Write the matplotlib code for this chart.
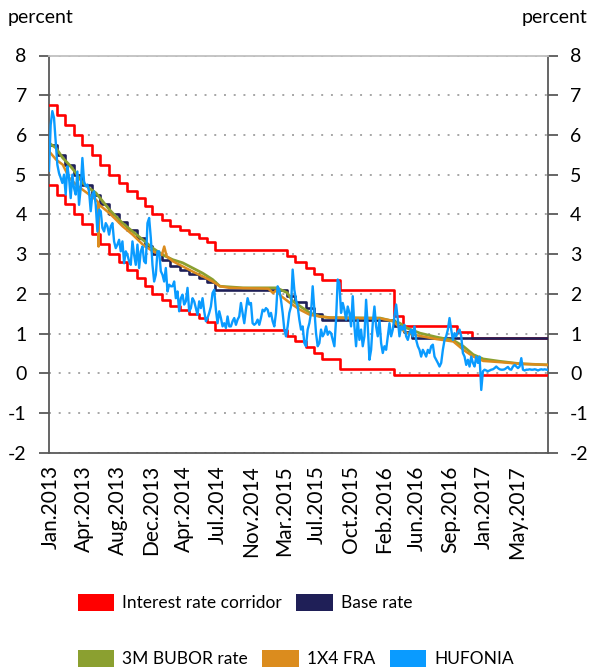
import matplotlib
matplotlib.use('Agg')
import matplotlib.pyplot as plt
from matplotlib.patches import Patch
import pandas as pd

plt.rcParams['font.family'] = ['Lato', 'DejaVu Sans']
plt.rcParams['axes.unicode_minus'] = False

# ---- data -----------------------------------------------------------
start_date = '2013-01-02'
end_date = '2017-08-31'

# base rate decisions (effective date, level)
base_dates = ['2013-01-02', '2013-01-30', '2013-02-27', '2013-03-27', '2013-04-24',
              '2013-05-29', '2013-06-26', '2013-07-24', '2013-08-28', '2013-09-25',
              '2013-10-30', '2013-11-27', '2013-12-18', '2014-01-22', '2014-02-19',
              '2014-03-26', '2014-04-23', '2014-05-28', '2014-06-25', '2014-07-23',
              '2015-03-25', '2015-04-22', '2015-05-27', '2015-06-24', '2015-07-22',
              '2016-03-23', '2016-04-27', '2016-05-25']
base_rate = [5.75, 5.50, 5.25, 5.00, 4.75, 4.50, 4.25, 4.00, 3.80, 3.60,
             3.40, 3.20, 3.00, 2.85, 2.70, 2.60, 2.50, 2.40, 2.30, 2.10,
             1.95, 1.80, 1.65, 1.50, 1.35, 1.20, 1.05, 0.90]

# interest rate corridor
corridor_dates = ['2013-01-02', '2013-01-30', '2013-02-27', '2013-03-27', '2013-04-24',
                  '2013-05-29', '2013-06-26', '2013-07-24', '2013-08-28', '2013-09-25',
                  '2013-10-30', '2013-11-27', '2013-12-18', '2014-01-22', '2014-02-19',
                  '2014-03-26', '2014-04-23', '2014-05-28', '2014-06-25', '2014-07-23',
                  '2015-03-25', '2015-04-22', '2015-05-27', '2015-06-24', '2015-07-22',
                  '2015-09-23', '2016-03-23', '2016-04-22', '2016-10-26', '2016-12-14']
corridor_upper = [6.75, 6.50, 6.25, 6.00, 5.75, 5.50, 5.25, 5.00, 4.80, 4.60,
                  4.40, 4.20, 4.00, 3.85, 3.70, 3.60, 3.50, 3.40, 3.30, 3.10,
                  2.95, 2.80, 2.65, 2.50, 2.35, 2.10, 1.45, 1.20, 1.05, 0.90]
corridor_lower = [4.75, 4.50, 4.25, 4.00, 3.75, 3.50, 3.25, 3.00, 2.80, 2.60,
                  2.40, 2.20, 2.00, 1.85, 1.70, 1.60, 1.50, 1.40, 1.30, 1.10,
                  0.95, 0.80, 0.65, 0.50, 0.35, 0.10, -0.05, -0.05, -0.05, -0.05]

# 3M BUBOR
bubor_dates = ['2013-01-02', '2013-01-26', '2013-02-18', '2013-03-12', '2013-04-04',
               '2013-04-27', '2013-05-19', '2013-06-11', '2013-07-04', '2013-07-27',
               '2013-08-18', '2013-09-10', '2013-10-14', '2013-11-18', '2013-12-22',
               '2014-01-25', '2014-02-28', '2014-04-03', '2014-05-07', '2014-06-10',
               '2014-07-14', '2014-08-08', '2014-10-26', '2015-02-17', '2015-03-25',
               '2015-04-14', '2015-05-18', '2015-06-11', '2015-07-15', '2015-08-18',
               '2016-02-05', '2016-03-27', '2016-04-13', '2016-05-06', '2016-06-20',
               '2016-08-16', '2016-10-12', '2016-11-15', '2016-12-19', '2017-01-22',
               '2017-03-20', '2017-05-27', '2017-08-31']
bubor = [5.80, 5.67, 5.42, 5.25, 5.04, 4.79, 4.66, 4.54, 4.33, 4.12,
         3.95, 3.78, 3.57, 3.36, 3.15, 2.98, 2.86, 2.78, 2.65, 2.52,
         2.36, 2.19, 2.15, 2.15, 2.03, 1.81, 1.64, 1.52, 1.43, 1.40,
         1.39, 1.30, 1.26, 1.14, 1.01, 0.91, 0.83, 0.68, 0.47, 0.36,
         0.30, 0.24, 0.21]

# 1X4 FRA
fra_dates = ['2013-01-02', '2013-01-26', '2013-02-18', '2013-03-12', '2013-04-04',
             '2013-04-27', '2013-05-19', '2013-06-11', '2013-06-19', '2013-06-20',
             '2013-06-21', '2013-07-27', '2013-08-18', '2013-09-10', '2013-10-14',
             '2013-11-18', '2013-12-22', '2014-01-22', '2014-01-30', '2014-02-07',
             '2014-02-28', '2014-04-03', '2014-05-07', '2014-06-10', '2014-07-14',
             '2014-08-08', '2014-09-10', '2015-01-20', '2015-02-05', '2015-02-15',
             '2015-03-07', '2015-04-04', '2015-05-08', '2015-06-11', '2015-07-15',
             '2015-08-18', '2016-02-05', '2016-03-20', '2016-04-13', '2016-05-06',
             '2016-06-20', '2016-08-16', '2016-10-12', '2016-11-15', '2016-12-19',
             '2017-01-22', '2017-03-20', '2017-05-27', '2017-08-31']
fra = [5.59, 5.38, 5.25, 4.92, 4.75, 4.62, 4.50, 4.37, 4.30, 3.19,
       4.25, 4.03, 3.87, 3.70, 3.49, 3.24, 3.07, 2.98, 3.19, 2.95,
       2.82, 2.69, 2.56, 2.44, 2.31, 2.19, 2.15, 2.13, 2.02, 2.08,
       1.93, 1.77, 1.60, 1.47, 1.43, 1.40, 1.38, 1.32, 1.14, 1.01,
       0.94, 0.86, 0.80, 0.59, 0.42, 0.31, 0.28, 0.24, 0.21]

# HUFONIA, evenly sampled between start_date and end_date
hufonia = [5.10, 6.25, 6.60, 6.43, 5.84, 5.25, 5.04, 4.92, 4.79, 5.00,
           4.50, 5.21, 4.92, 4.41, 5.00, 4.66, 4.50, 5.08, 4.24, 4.66,
           5.42, 4.83, 4.71, 4.75, 4.58, 4.08, 4.50, 4.58, 4.24, 3.57,
           4.12, 4.08, 3.66, 3.57, 3.78, 3.70, 3.49, 3.70, 3.78, 3.32,
           3.15, 3.24, 3.36, 3.07, 3.32, 2.77, 3.07, 2.98, 2.82, 2.73,
           3.32, 2.98, 2.73, 3.24, 2.65, 3.07, 3.19, 2.82, 2.77, 3.78,
           3.91, 3.41, 2.73, 2.31, 2.48, 3.07, 3.07, 2.57, 2.48, 2.31,
           2.65, 2.06, 2.23, 2.19, 2.19, 2.31, 1.89, 2.06, 1.56, 1.89,
           1.98, 1.73, 1.81, 2.15, 1.56, 1.64, 1.89, 1.81, 1.64, 1.47,
           1.81, 1.64, 1.89, 1.56, 1.31, 1.39, 1.52,
           1.68, 2.02, 2.10, 1.60, 1.26, 1.56, 1.39, 1.18, 1.26, 1.14,
           1.43, 1.18, 1.18, 1.31, 1.39, 1.22, 1.35, 1.43, 1.77, 1.52,
           1.26, 1.60, 1.89, 1.73, 1.77, 1.26, 1.22, 1.26, 1.35, 1.22,
           1.39, 1.60, 1.56, 1.64, 1.60, 1.43, 1.52, 1.31, 1.18, 1.52,
           2.19, 2.10, 1.85, 1.52, 1.10, 0.93, 1.18, 1.52, 1.68, 2.61,
           2.10, 1.85, 1.68, 1.35, 1.10, 1.18, 0.76, 0.68, 1.10, 1.26,
           1.52, 2.19, 1.60, 1.01, 0.68, 0.76, 1.10, 0.93, 1.01, 1.18,
           0.97, 1.05, 1.01, 0.84, 0.68, 1.35, 2.36, 2.27, 1.52, 1.77,
           1.60, 1.35, 1.68, 1.52, 1.18, 1.94, 1.18, 0.68, 1.35, 0.84,
           1.10, 0.68, 0.93, 1.85, 1.18, 0.34, 0.59, 1.26, 1.68, 1.18,
           0.93, 1.35,
           0.76, 0.51, 0.68, 0.59, 0.93, 1.26, 0.93, 1.10, 1.43, 1.73,
           1.35, 0.93, 1.18, 1.10, 1.22, 0.93, 0.84, 1.01, 1.10, 0.93,
           1.18, 0.84, 0.68, 0.59, 0.42, 0.59, 0.51, 0.42, 0.59, 0.51,
           0.68, 0.72, 0.42, 0.34, 0.26, 0.17, 0.26, 0.59, 0.84, 0.93,
           1.10, 1.39, 1.10, 0.84, 1.01, 0.93, 1.05, 1.10, 0.93, 0.51,
           0.42, 0.21, 0.34, 0.17, 0.42, 0.26, 0.17, 0.42, 0.26, 0.42,
           -0.42, 0.05, 0.09, 0.07, 0.05, 0.07, 0.09, 0.10, 0.13, 0.17,
           0.13, 0.10, 0.09, 0.09, 0.10, 0.13, 0.16, 0.10, 0.09, 0.17,
           0.21, 0.17, 0.13, 0.17, 0.38, 0.09, 0.07, 0.09, 0.09, 0.10,
           0.09, 0.09, 0.10, 0.09, 0.07, 0.09, 0.10, 0.09, 0.10, 0.09,
           0.09]

tick_labels = ['Jan.2013', 'Apr.2013', 'Aug.2013', 'Dec.2013', 'Apr.2014',
               'Jul.2014', 'Nov.2014', 'Mar.2015', 'Jul.2015', 'Oct.2015',
               'Feb.2016', 'Jun.2016', 'Sep.2016', 'Jan.2017', 'May.2017']

# ---- styling --------------------------------------------------------
c_red = '#FF0000'
c_navy = '#1F1F57'
c_green = '#8BA030'
c_orange = '#DB8C1E'
c_blue = '#0A9BFF'
c_axis = '#595959'


def steps(dates, values):
    # extend the last level to the end of the chart
    d = pd.to_datetime(list(dates) + [end_date])
    return d, list(values) + [values[-1]]


fig = plt.figure(figsize=(5.92, 6.72), dpi=100)
ax = fig.add_axes([49 / 592, 1 - 452.7 / 672, 499 / 592, 397.2 / 672])

d, v = steps(corridor_dates, corridor_upper)
ax.plot(d, v, drawstyle='steps-post', color=c_red, lw=1.9, zorder=3)
d, v = steps(corridor_dates, corridor_lower)
ax.plot(d, v, drawstyle='steps-post', color=c_red, lw=1.9, zorder=3)
d, v = steps(base_dates, base_rate)
ax.plot(d, v, drawstyle='steps-post', color=c_navy, lw=1.9, zorder=4)
ax.plot(pd.to_datetime(bubor_dates), bubor, color=c_green, lw=2.0, zorder=5)
ax.plot(pd.to_datetime(fra_dates), fra, color=c_orange, lw=1.8, zorder=6)
huf_dates = pd.date_range(start_date, end_date, periods=len(hufonia))
ax.plot(huf_dates, hufonia, color=c_blue, lw=1.7, zorder=7)

ax.set_xlim(pd.Timestamp(start_date), pd.Timestamp(end_date))
ax.set_ylim(-2, 8)
ax.set_yticks(range(-2, 9))

tick_pos = pd.date_range('2013-01-09', '2017-05-17', periods=len(tick_labels))
ax.set_xticks(tick_pos)
ax.set_xticklabels(tick_labels, rotation=90, fontsize=15)
ax.tick_params(axis='x', length=0, pad=9)

ax.yaxis.set_ticks_position('both')
ax.tick_params(axis='y', which='both', labelleft=True, labelright=True,
               direction='out', length=7, width=1.3, color=c_axis,
               labelsize=14, pad=9)

ax.yaxis.grid(True, linestyle=(0, (1, 4)), color='#A6A6A6', lw=1.4)
ax.set_axisbelow(True)

for side in ['left', 'right', 'bottom']:
    ax.spines[side].set_color(c_axis)
    ax.spines[side].set_linewidth(1.3)
ax.spines['top'].set_color('#C0C0C0')
ax.spines['top'].set_linewidth(1.3)

fig.text(8 / 592, 1 - 18 / 672, 'percent', fontsize=14, ha='left', va='center')
fig.text(587 / 592, 1 - 18 / 672, 'percent', fontsize=14, ha='right', va='center')

# legend in two rows
row1 = [Patch(facecolor=c_red, edgecolor='none', label='Interest rate corridor'),
        Patch(facecolor=c_navy, edgecolor='none', label='Base rate')]
row2 = [Patch(facecolor=c_green, edgecolor='none', label='3M BUBOR rate'),
        Patch(facecolor=c_orange, edgecolor='none', label='1X4 FRA'),
        Patch(facecolor=c_blue, edgecolor='none', label='HUFONIA')]
leg_kw = dict(frameon=False, fontsize=12.5, handlelength=2.1, handleheight=1.2,
              handletextpad=0.45, columnspacing=0.85, borderpad=0, borderaxespad=0,
              loc='center left')
leg1 = fig.legend(handles=row1, ncol=2, bbox_to_anchor=(77.7 / 592, 1 - 602.5 / 672), **leg_kw)
leg2 = fig.legend(handles=row2, ncol=3, bbox_to_anchor=(77.7 / 592, 1 - 658.5 / 672), **leg_kw)

fig.savefig('out.png', dpi=100)
